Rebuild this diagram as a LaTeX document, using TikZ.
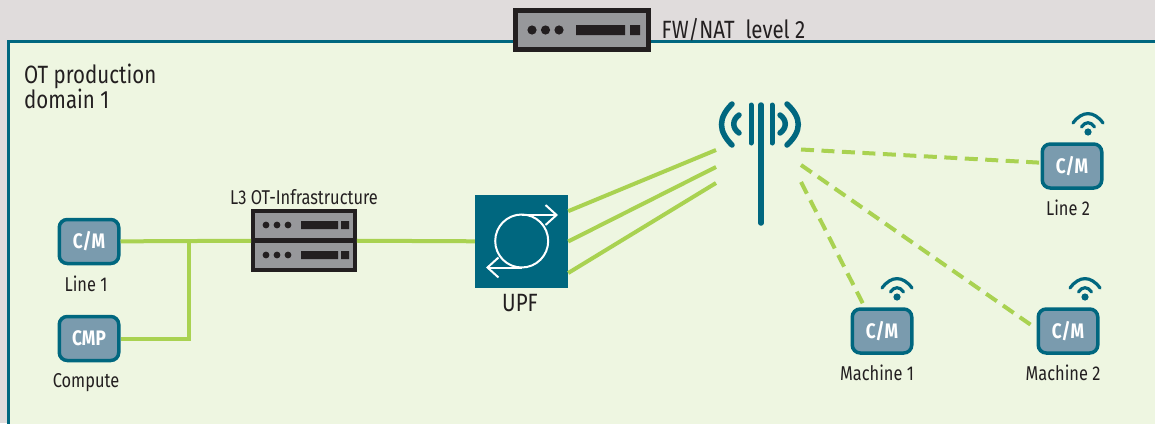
\documentclass[tikz,border=0pt]{standalone}
\usepackage{fontspec}
\setmainfont[FakeStretch=0.82]{Fira Sans}
\usepackage{xcolor}
\usetikzlibrary{arrows.meta,calc}
\definecolor{otteal}{HTML}{00677F}
\definecolor{otgreen}{HTML}{A9D251}
\definecolor{otpale}{HTML}{EEF6E1}
\definecolor{otgrey}{HTML}{E0DCDC}
\definecolor{otblue}{HTML}{7A9BAE}
\definecolor{otrack}{HTML}{97989B}
\definecolor{otink}{HTML}{231F20}
\tikzset{
	devicebox/.style={draw=otteal,fill=otblue,line width=3.5pt,rounded corners=8pt,minimum width=59.5pt,minimum height=44pt,inner sep=0pt,text=white,font=\fontsize{21}{23}\selectfont\bfseries},
	rackbox/.style={draw=otink,fill=otrack,inner sep=0pt},
	linelabel/.style={text=otink,inner sep=0pt,font=\fontsize{20}{24}\selectfont},
	biglabel/.style={text=otink,inner sep=0pt,align=left,font=\fontsize{25}{25}\selectfont},
	linkline/.style={draw=otgreen,line width=4pt},
	radioline/.style={linkline,dash pattern=on 13pt off 7.5pt},
	antennaline/.style={draw=otteal,line width=5.5pt,line cap=round},
	wifiline/.style={draw=otteal,line width=3.2pt,line cap=round},
	upfarrow/.style={draw=white,line width=2pt,-{Straight Barb[length=11pt,width=20pt,line width=2pt]}},
	pics/wifi/.style={code={
		\fill[otteal] (0,7) circle (3.6);
		\draw[wifiline] (-6.5,2) .. controls (-3,-3.7) and (3,-3.7) .. (6.5,2);
		\draw[wifiline] (-15,-2) .. controls (-6,-14.5) and (6,-14.5) .. (15,-2);
	}},
	pics/rackface/.style={code={
		\fill[otink] (-38,0) circle (3.4) (-27,0) circle (3.4) (-16,0) circle (3.4);
		\fill[otink] (-3,-4) rectangle (34,4) (37,-4) rectangle (45,4);
	}}
}
\begin{document}
\begin{tikzpicture}[x=1pt,y=-1pt]
	\useasboundingbox (0,0) rectangle (1155,423);
	\fill[otgrey] (0,0) rectangle (1155,423);
	\draw[draw=otteal,fill=otpale,line width=2.6pt] (8.5,41.5) rectangle (1175,440);

	\node[biglabel,anchor=north west] (domain) at (24,64) {OT production\\domain 1};

	% firewall
	\node[rackbox,line width=5pt,minimum width=133pt,minimum height=39pt] (fwnat) at (581.5,29.5) {};
	\fill[otink] (532,30) circle (4.6) (545.5,30) circle (4.6) (559,30) circle (4.6);
	\fill[otink] (576,25) rectangle (625,35) (630,25) rectangle (640,35);
	\node[biglabel,anchor=west] (fwlabel) at (661.5,30) {FW/NAT\ \ level 2};

	% devices
	\node[devicebox] (line1) at (89,241.5) {C/M};
	\node[linelabel] (line1label) at (86,284) {Line 1};
	\node[devicebox] (compute) at (89,338.5) {CMP};
	\node[linelabel] (computelabel) at (86,383) {Compute};
	\node[devicebox] (line2) at (1072,166) {C/M};
	\node[linelabel] (line2label) at (1068,208) {Line 2};
	\node[devicebox] (machine1) at (882,331) {C/M};
	\node[linelabel] (machine1label) at (877,373) {Machine 1};
	\node[devicebox] (machine2) at (1068,331) {C/M};
	\node[linelabel] (machine2label) at (1063,373) {Machine 2};
	\pic at (1088,125) {wifi};
	\pic at (897,290) {wifi};
	\pic at (1085,290) {wifi};

	% infrastructure
	\node[rackbox,line width=3.6pt,minimum width=102pt,minimum height=59.5pt] (infra) at (304,240.5) {};
	\draw[draw=otink,line width=4.5pt] (infra.west) -- (infra.east);
	\pic at (304,225) {rackface};
	\pic at (304,255) {rackface};
	\node[linelabel,anchor=south] (infralabel) at (304,205) {L3 OT-Infrastructure};

	% upf
	\node[fill=otteal,minimum size=93pt,inner sep=0pt] (upf) at (521.5,241.5) {};
	\draw[draw=white,line width=2pt] (521.7,241) circle (26.5);
	\draw[upfarrow] (522,215) -- (558,215);
	\draw[upfarrow] (522,267.5) -- (486,267.5);
	\node[biglabel] (upflabel) at (520,303.5) {UPF};

	% antenna
	\draw[antennaline] (761,105) -- (761,223);
	\draw[antennaline,line width=5pt] (751,105) -- (751,143) (772,105) -- (772,143);
	\draw[antennaline] (732,104) .. controls (718,118) and (718,131) .. (732,145);
	\draw[antennaline] (739,115) .. controls (732,120) and (732,128) .. (739,133);
	\draw[antennaline] (787,104) .. controls (802,118) and (802,131) .. (787,145);
	\draw[antennaline] (780,115) .. controls (787,120) and (787,128) .. (780,133);
	\coordinate (antw1) at (716,150);
	\coordinate (antw2) at (716,167);
	\coordinate (antw3) at (716,183);
	\coordinate (ante1) at (801,149.5);
	\coordinate (ante2) at (801,165);
	\coordinate (ante3) at (801,182);

	% connectors
	\coordinate (joint) at (189,241);
	\draw[linkline] (line1) -- (infra);
	\draw[linkline] (compute) -| (joint);
	\draw[linkline] (infra) -- (upf);
	\draw[linkline] (upf.33) -- (antw1);
	\draw[linkline] (upf.0) -- (antw2);
	\draw[linkline] (upf.-34) -- (antw3);
	\draw[radioline] (ante1) -- (line2.174);
	\draw[radioline] (ante2) -- (machine2.176);
	\draw[radioline] (ante3) -- (machine1.126);
\end{tikzpicture}
\end{document}
